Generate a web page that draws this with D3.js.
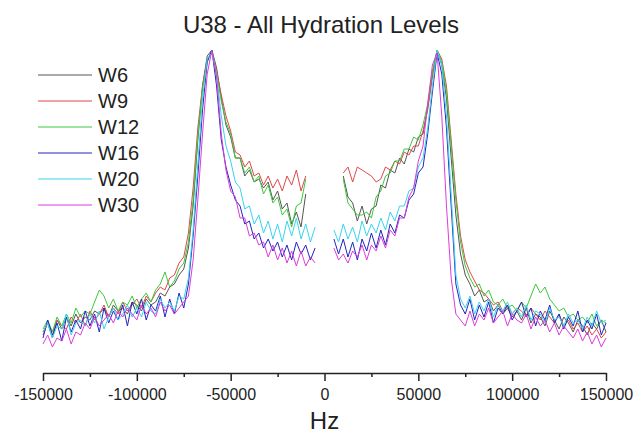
<!DOCTYPE html>
<html>
<head>
<meta charset="utf-8">
<script src="https://cdn.jsdelivr.net/npm/d3@7"></script>
<style>
  body { margin: 0; background: #fff; }
  text { font-family: "Liberation Sans", Arial, sans-serif; fill: #222; }
</style>
</head>
<body>
<div id="chart"></div>
<script>
// series names and colours
const seriesNames = ["W6", "W9", "W12", "W16", "W20", "W30"]
const seriesColors = ["#555555", "#e0474c", "#3cc83c", "#2424c0", "#38d4ee", "#dc3cdc"]

// frequency grids (Hz), sampled every 2500 Hz on each side of the gap
const hzLeft = d3.range(-150000, -4999, 2500)
const hzRight = d3.range(5000, 150001, 2500)

// intensity (arbitrary units, peak = 100)
const w6Left = [6, 9, 4, 10, 7, 11, 8, 12, 9, 11, 10, 13, 12, 14, 11, 15, 13, 14, 12, 16,
  15, 13, 17, 15, 16, 19, 18, 21, 22, 25, 27, 34, 48, 70, 88, 98, 100, 94, 84, 75,
  71, 64, 64, 58, 60, 56, 57, 54, 56, 50, 53, 47, 49, 42, 46, 41, 52, null, null]
const w9Left = [5, 9, 6, 10, 8, 7, 11, 9, 12, 8, 13, 10, 12, 15, 11, 14, 12, 16, 13, 15,
  17, 14, 18, 16, 19, 21, 20, 24, 25, 29, 31, 39, 54, 74, 88, 97, 99, 93, 85, 78,
  73, 66, 65, 61, 63, 58, 59, 55, 58, 54, 57, 53, 58, 55, 60, 53, 58, null, null]
const w12Left = [7, 10, 6, 11, 8, 12, 9, 14, 11, 13, 12, 16, 20, 18, 14, 17, 13, 16, 15, 18,
  14, 17, 19, 16, 20, 22, 26, 21, 23, 27, 29, 36, 50, 71, 87, 96, 100, 92, 83, 76,
  72, 64, 64, 59, 61, 56, 58, 52, 55, 49, 51, 45, 47, 41, 48, 49, 57, null, null]
const w16Left = [4, 10, 5, 9, 3, 11, 6, 10, 7, 13, 8, 12, 6, 14, 9, 13, 10, 15, 8, 16,
  12, 17, 10, 15, 13, 18, 11, 17, 12, 19, 14, 22, 38, 58, 80, 96, 100, 88, 70, 61,
  55, 50, 48, 42, 43, 37, 39, 34, 37, 33, 36, 31, 35, 30, 36, 32, 35, 30, 34]
const w20Left = [6, 9, 4, 8, 7, 12, 5, 9, 10, 8, 12, 9, 13, 7, 11, 14, 10, 12, 15, 11,
  14, 11, 16, 13, 12, 17, 14, 16, 13, 18, 17, 24, 40, 62, 84, 97, 99, 92, 78, 68,
  63, 56, 54, 47, 48, 42, 45, 39, 43, 37, 42, 36, 43, 38, 44, 37, 42, 36, 41]
const w30Left = [2, 5, 1, 4, 3, 7, 2, 6, 5, 9, 7, 11, 8, 10, 12, 9, 13, 11, 14, 12,
  10, 15, 12, 14, 11, 16, 13, 15, 12, 14, 16, 18, 30, 50, 72, 92, 100, 91, 72, 60,
  53, 51, 44, 44, 38, 39, 35, 36, 31, 35, 30, 34, 29, 33, 28, 33, 28, 31, 29]

const w6Right = [null, null, 58, 51, 49, 43, 48, 42, 47, 48, 55, 54, 60, 59, 64, 62, 67, 66, 71, 72,
  81, 92, 100, 95, 84, 64, 45, 32, 25, 22, 18, 20, 16, 17, 13, 15, 12, 14, 11, 13,
  10, 14, 9, 12, 11, 8, 13, 10, 7, 11, 9, 6, 10, 8, 5, 9, 7, 10, 6]
const w9Right = [null, null, 59, 61, 56, 61, 60, 59, 58, 56, 57, 61, 60, 63, 62, 66, 65, 68, 68, 73,
  80, 91, 100, 97, 88, 70, 52, 38, 30, 26, 23, 20, 19, 17, 15, 16, 13, 15, 12, 14,
  13, 11, 14, 12, 10, 13, 11, 9, 12, 8, 10, 7, 9, 6, 8, 5, 7, 4, 6]
const w12Right = [null, null, 57, 49, 47, 45, 45, 46, 44, 51, 53, 58, 59, 63, 63, 67, 67, 71, 70, 75,
  82, 93, 100, 96, 86, 68, 50, 36, 28, 24, 21, 22, 18, 20, 16, 15, 17, 14, 15, 13,
  16, 14, 18, 22, 19, 21, 17, 15, 13, 14, 11, 12, 10, 11, 9, 12, 8, 10, 9]
const w16Right = [37, 32, 37, 31, 36, 30, 37, 33, 39, 34, 40, 35, 42, 39, 45, 44, 50, 52, 59, 61,
  72, 86, 99, 92, 74, 48, 22, 15, 12, 17, 10, 15, 11, 16, 9, 14, 12, 15, 10, 13,
  16, 11, 14, 8, 13, 10, 15, 9, 12, 7, 11, 8, 13, 6, 10, 7, 12, 5, 9]
const w20Right = [40, 36, 42, 37, 41, 36, 43, 38, 42, 39, 44, 40, 46, 43, 48, 48, 53, 54, 61, 64,
  74, 88, 100, 95, 78, 52, 25, 17, 14, 18, 12, 16, 13, 17, 11, 15, 13, 16, 12, 14,
  11, 15, 10, 13, 12, 9, 14, 10, 11, 8, 12, 9, 10, 7, 11, 8, 13, 9, 10]
const w30Right = [34, 30, 32, 29, 33, 31, 35, 30, 35, 33, 38, 34, 40, 38, 44, 44, 51, 54, 63, 68,
  82, 95, 99, 78, 48, 24, 12, 10, 8, 13, 8, 12, 10, 14, 9, 11, 13, 8, 12, 10,
  9, 12, 7, 11, 8, 10, 6, 9, 5, 8, 6, 4, 7, 3, 6, 2, 5, 1, 4]

const leftValues = [w6Left, w9Left, w12Left, w16Left, w20Left, w30Left]
const rightValues = [w6Right, w9Right, w12Right, w16Right, w20Right, w30Right]

const majorTicks = [-150000, -100000, -50000, 0, 50000, 100000, 150000]
const minorTicks = [-125000, -75000, -25000, 25000, 75000, 125000]

const margin = {top: 50, right: 30, bottom: 83, left: 43}
const width = 636 - margin.left - margin.right
const height = 433 - margin.top - margin.bottom
const axisOffset = 23

const svg = d3.select("#chart")
  .append("svg")
  .attr("width", width + margin.left + margin.right)
  .attr("height", height + margin.top + margin.bottom)
  .append("g")
  .attr("transform", "translate(" + margin.left + "," + margin.top + ")")

const x = d3.scaleLinear().domain([-150000, 150000]).range([0, width])
const y = d3.scaleLinear().domain([0, 100]).range([height, 0])

// title
svg.append("text")
  .attr("x", 278)
  .attr("y", -17)
  .attr("text-anchor", "middle")
  .attr("font-size", "24px")
  .text("U38 - All Hydration Levels")

// x axis: labelled major ticks, then short minor ticks
const xAxis = svg.append("g")
  .attr("transform", "translate(0," + (height + axisOffset) + ")")
  .call(d3.axisBottom(x).tickValues(majorTicks).tickSize(8).tickPadding(7.5)
    .tickFormat(d => String(d)).tickSizeOuter(0))
xAxis.select(".domain").attr("stroke", "#222").attr("stroke-width", 1.5)
xAxis.selectAll(".tick line").attr("stroke", "#222").attr("stroke-width", 1.5)
xAxis.selectAll(".tick text")
  .attr("font-size", "16px")
  .attr("font-family", "Liberation Sans, Arial, sans-serif")
  .attr("fill", "#222")

const xMinor = svg.append("g")
  .attr("transform", "translate(0," + (height + axisOffset) + ")")
  .call(d3.axisBottom(x).tickValues(minorTicks).tickSize(4).tickFormat(""))
xMinor.select(".domain").remove()
xMinor.selectAll(".tick line").attr("stroke", "#222").attr("stroke-width", 1.5)

svg.append("text")
  .attr("x", x(0))
  .attr("y", height + axisOffset + 56)
  .attr("text-anchor", "middle")
  .attr("font-size", "24px")
  .text("Hz")

// spectra, each drawn as two segments around the central gap
const line = d3.line()
  .defined(d => d[1] != null)
  .x(d => x(d[0]))
  .y(d => y(d[1]))

seriesNames.forEach((name, k) => {
  const g = svg.append("g").attr("class", "series")
  g.append("path")
    .datum(hzLeft.map((h, i) => [h, leftValues[k][i]]))
    .attr("fill", "none")
    .attr("stroke", seriesColors[k])
    .attr("stroke-width", 1)
    .attr("d", line)
  g.append("path")
    .datum(hzRight.map((h, i) => [h, rightValues[k][i]]))
    .attr("fill", "none")
    .attr("stroke", seriesColors[k])
    .attr("stroke-width", 1)
    .attr("d", line)
})

// legend
const legend = svg.selectAll(".legend")
  .data(seriesNames)
  .enter().append("g")
  .attr("class", "legend")
  .attr("transform", (d, i) => "translate(0," + (25 + i * 26) + ")")

legend.append("line")
  .attr("x1", -5)
  .attr("x2", 49)
  .attr("y1", 0)
  .attr("y2", 0)
  .attr("stroke", (d, i) => seriesColors[i])
  .attr("stroke-width", 1)

legend.append("text")
  .attr("x", 55)
  .attr("y", 0)
  .attr("dy", ".35em")
  .attr("font-size", "20px")
  .text(d => d)
</script>
</body>
</html>
